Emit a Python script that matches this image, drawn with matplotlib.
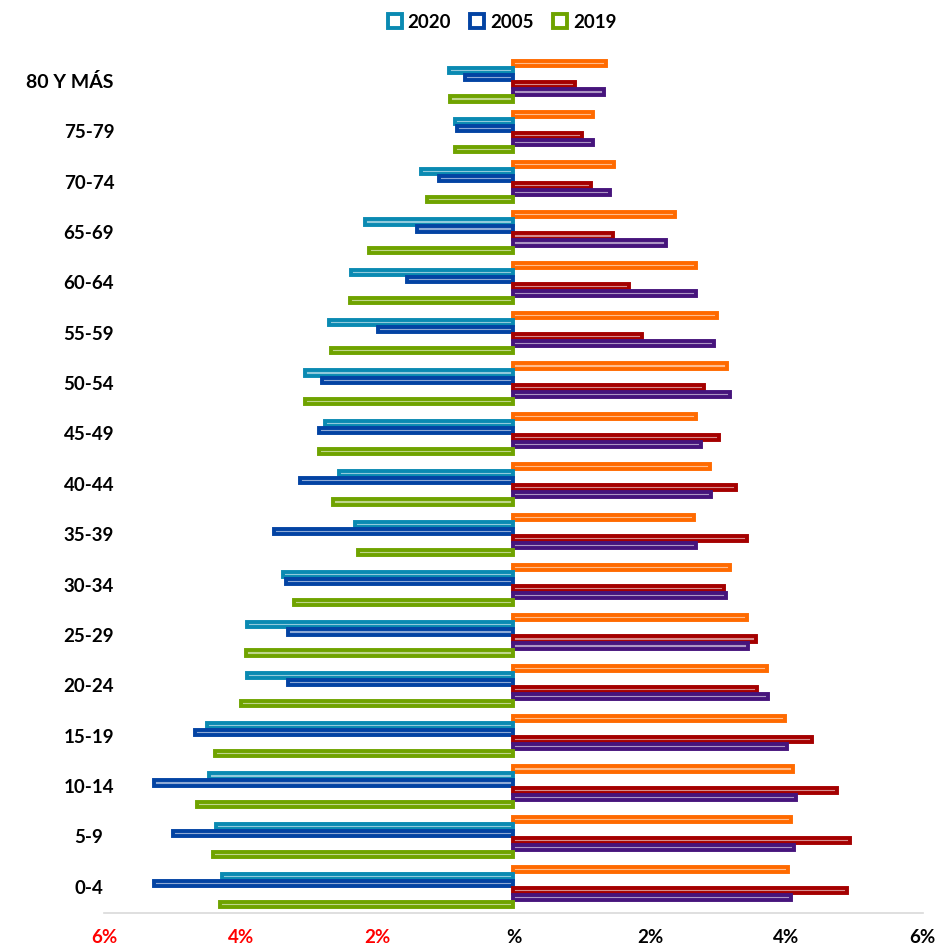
import matplotlib
matplotlib.use("Agg")
import matplotlib.pyplot as plt
from matplotlib.lines import Line2D
from matplotlib.colors import to_rgb
import matplotlib.transforms as mtransforms
import numpy as np

plt.rcParams['font.family'] = ['Lato', 'DejaVu Sans']

categories = ["0-4", "5-9", "10-14", "15-19", "20-24", "25-29", "30-34", "35-39",
              "40-44", "45-49", "50-54", "55-59", "60-64", "65-69", "70-74", "75-79", "80 Y MÁS"]

# Left side (men), percent
h2020 = [4.27, 4.36, 4.47, 4.50, 3.91, 3.91, 3.38, 2.32, 2.56, 2.77, 3.05, 2.70, 2.39, 2.18, 1.35, 0.86, 0.94]
h2005 = [5.27, 4.99, 5.27, 4.67, 3.31, 3.30, 3.34, 3.51, 3.13, 2.85, 2.81, 1.98, 1.56, 1.41, 1.09, 0.83, 0.71]
h2019 = [4.31, 4.41, 4.64, 4.38, 3.99, 3.92, 3.22, 2.28, 2.64, 2.85, 3.05, 2.67, 2.40, 2.12, 1.27, 0.86, 0.93]
# Right side (women), percent
m2020 = [4.02, 4.07, 4.10, 3.98, 3.71, 3.43, 3.18, 2.65, 2.88, 2.68, 3.13, 2.98, 2.68, 2.37, 1.48, 1.17, 1.36]
m2005 = [4.89, 4.93, 4.74, 4.37, 3.57, 3.55, 3.09, 3.43, 3.26, 3.01, 2.80, 1.89, 1.70, 1.46, 1.13, 1.00, 0.90]
m2019 = [4.07, 4.11, 4.14, 4.01, 3.73, 3.44, 3.11, 2.67, 2.89, 2.75, 3.18, 2.94, 2.67, 2.24, 1.42, 1.16, 1.33]

legend_labels = ["2020", "2005", "2019"]
xtick_vals = [-6, -4, -2, 0, 2, 4, 6]
xtick_labels = ["6%", "4%", "2%", "%", "2%", "4%", "6%"]

c_teal = "#0A8AB2"
c_blue = "#0343A3"
c_green = "#6FA300"
c_orange = "#FF6A00"
c_red = "#A50000"
c_purple = "#46147C"


def light(c, f=0.55):
    r, g, b = to_rgb(c)
    return (r + (1 - r) * f, g + (1 - g) * f, b + (1 - b) * f)


W, H = 937, 945
fig = plt.figure(figsize=(W / 100, H / 100), dpi=100)
ax = fig.add_axes([104.3 / W, 1 - 913.5 / H, 818.4 / W, (913.5 - 57.2) / H])

y = np.arange(len(categories))
step = 0.1397
bh = 0.102
lw = 2.8

series = [
    (m2020, +2.5, c_orange, +1),
    (h2020, +1.5, c_teal, -1),
    (h2005, +0.5, c_blue, -1),
    (m2005, -0.5, c_red, +1),
    (m2019, -1.5, c_purple, +1),
    (h2019, -2.5, c_green, -1),
]
for vals, off, col, sgn in series:
    ax.barh(y + off * step, sgn * np.array(vals), height=bh, color=light(col),
            edgecolor=col, linewidth=lw, zorder=3)

ax.set_xlim(-6, 6)
ax.set_ylim(-0.5, len(categories) - 0.5)

for s in ["top", "right", "left"]:
    ax.spines[s].set_visible(False)
ax.spines["bottom"].set_color("#D9D9D9")
ax.spines["bottom"].set_linewidth(1.2)

ax.set_yticks([])
ax.set_xticks(xtick_vals)
ax.set_xticklabels(xtick_labels, fontsize=13.5, fontweight="bold")
ax.tick_params(axis="x", length=0, pad=11)
for lab, v in zip(ax.get_xticklabels(), xtick_vals):
    lab.set_color("#FF0000" if v < 0 else "black")

# category labels
for i, cat in enumerate(categories):
    if cat == "80 Y MÁS":
        tr = mtransforms.offset_copy(ax.get_yaxis_transform(), fig=fig, x=113 - 104.3, y=0, units="dots")
        ax.text(0, i, cat, transform=tr, ha="right", va="center", fontsize=14, fontweight="bold")
    else:
        tr = mtransforms.offset_copy(ax.get_yaxis_transform(), fig=fig, x=89 - 104.3, y=0, units="dots")
        ax.text(0, i, cat, transform=tr, ha="center", va="center", fontsize=13.5, fontweight="bold")

handles = [Line2D([], [], linestyle="none", marker="s", markersize=10,
                  markerfacecolor="white", markeredgecolor=c, markeredgewidth=2.8)
           for c in (c_teal, c_blue, c_green)]
fig.legend(handles, legend_labels, loc="center", bbox_to_anchor=(502 / W, 1 - 23 / H),
           ncol=3, frameon=False, handlelength=0.8, handletextpad=0.3,
           columnspacing=1.0, prop={"weight": "bold", "size": 13.5})

fig.savefig("out.png", dpi=100)
